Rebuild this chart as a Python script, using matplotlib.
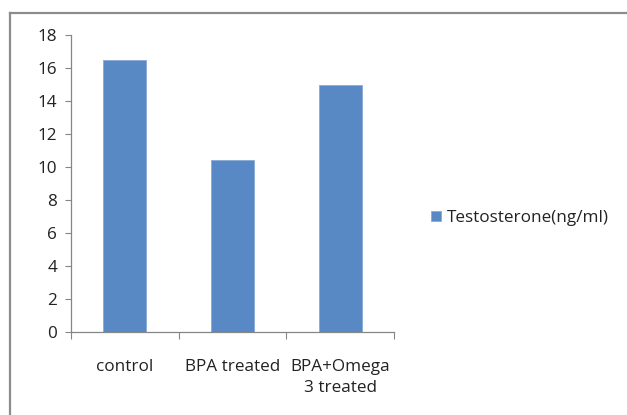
import numpy as np
import matplotlib.pyplot as plt
from matplotlib.lines import Line2D
from matplotlib.patches import Patch

plt.rcParams['font.family'] = ['Open Sans', 'DejaVu Sans']

groups = ["control", "BPA treated", "BPA+Omega\n3 treated"]
testosterone = [16.5, 10.43, 14.95]
series_name = "Testosterone(ng/ml)"

W, H = 627, 415
fig = plt.figure(figsize=(W / 100, H / 100), dpi=100)
ax = fig.add_axes([71 / W, 1 - 332.3 / H, (394 - 71) / W, (332.3 - 35) / H])

bar_color = "#5889C4"
axis_color = "#868686"
text_color = "#222222"
fs = 12.3
x = np.arange(len(groups))
ax.bar(x, testosterone, width=0.4, color=bar_color, edgecolor="#8AAAD6", linewidth=0.6)

ax.set_xlim(-0.5, len(groups) - 0.5)
ax.set_ylim(0, 18)
ax.set_yticks(range(0, 19, 2))
ax.tick_params(axis='y', direction='out', length=4, color=axis_color,
               labelsize=fs, labelcolor=text_color, pad=6)

# category ticks sit on the boundaries between groups
ax.set_xticks(np.arange(-0.5, len(groups), 1))
ax.set_xticklabels([])
ax.tick_params(axis='x', which='major', direction='out', length=5, color=axis_color)
ax.set_xticks(x, minor=True)
ax.set_xticklabels(groups, minor=True, fontsize=fs, linespacing=1.45, color=text_color)
ax.tick_params(axis='x', which='minor', length=0, pad=19)

for side in ("top", "right"):
    ax.spines[side].set_visible(False)
for side in ("left", "bottom"):
    ax.spines[side].set_color(axis_color)
    ax.spines[side].set_linewidth(0.9)

handle = Patch(facecolor=bar_color, edgecolor="#8AAAD6", linewidth=0.6)
leg = fig.legend([handle], [series_name], loc="center left",
                 bbox_to_anchor=(424 / W, 1 - 218 / H), frameon=False,
                 fontsize=fs, handlelength=0.6, handleheight=0.6,
                 handletextpad=0.35, borderaxespad=0)
for t in leg.get_texts():
    t.set_color(text_color)

# chart frame: top and left edges
fig.add_artist(Line2D([9.5 / W, 1.0], [1 - 13 / H, 1 - 13 / H],
                      transform=fig.transFigure, color="#8C8C8C", linewidth=1.6))
fig.add_artist(Line2D([9.5 / W, 9.5 / W], [0, 1 - 13 / H],
                      transform=fig.transFigure, color="#8C8C8C", linewidth=1.6))

fig.savefig("out.png", dpi=100)
